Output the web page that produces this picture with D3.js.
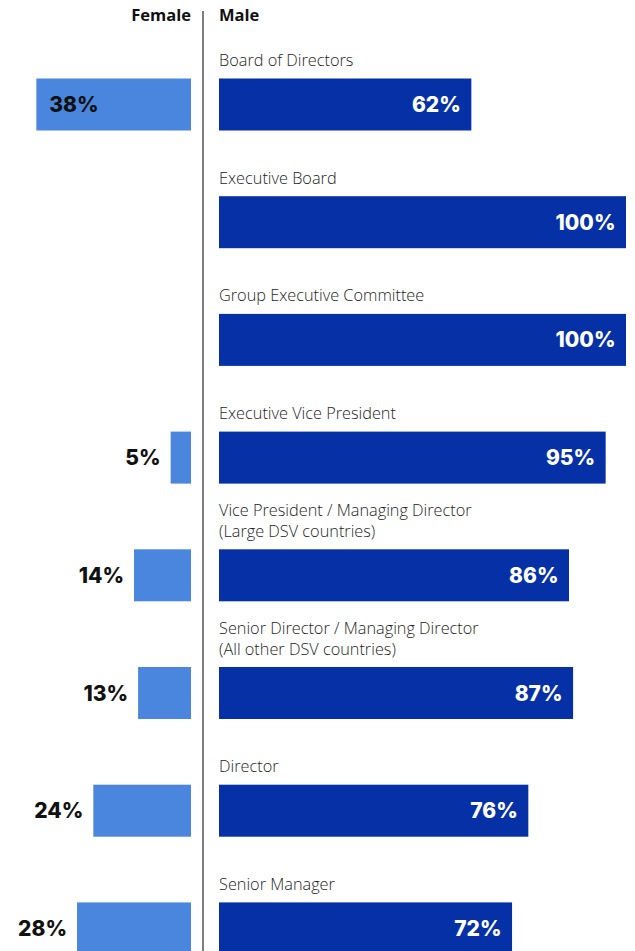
<!DOCTYPE html>
<html>
<head>
<meta charset="utf-8">
<script src="https://cdn.jsdelivr.net/npm/d3@7"></script>
<style>
  html, body { margin: 0; padding: 0; background: #ffffff; }
  svg { display: block; }
</style>
</head>
<body>
<svg id="chart" width="635" height="951"></svg>
<script>
// Management levels, top to bottom ("\n" marks a line break in the label)
const categories = [
  "Board of Directors",
  "Executive Board",
  "Group Executive Committee",
  "Executive Vice President",
  "Vice President / Managing Director\n(Large DSV countries)",
  "Senior Director / Managing Director\n(All other DSV countries)",
  "Director",
  "Senior Manager"
];
const seriesNames = ["Female", "Male"];
const femaleShare = [38, 0, 0, 5, 14, 13, 24, 28];
const maleShare = [62, 100, 100, 95, 86, 87, 76, 72];

const W = 635, H = 951;
const femaleColor = "#4a86de";
const maleColor = "#0631a6";
const labelFont = "'Open Sans', 'Noto Sans', sans-serif";
const valueFont = "Inter, Lato, 'Noto Sans', sans-serif";

const svg = d3.select("#chart");

// Each side grows outward from the centre divider
const divider = 203;
const xMale = d3.scaleLinear().domain([0, 100]).range([219, 626]);
const xFemale = d3.scaleLinear().domain([0, 100]).range([191, 191 - 407]);

// Rows: one bar per level, evenly spaced
const barH = 52, step = 117.7, top0 = 78.5;
const y = d3.scaleBand()
  .domain(categories)
  .range([top0, top0 + (categories.length - 1) * step + barH])
  .paddingInner(1 - barH / step)
  .paddingOuter(0);

// Centre divider
svg.append("line")
  .attr("x1", divider).attr("x2", divider)
  .attr("y1", 11).attr("y2", H)
  .attr("stroke", "#555").attr("stroke-width", 1.5);

// Series headers
svg.append("text")
  .attr("x", xFemale(0)).attr("y", 21)
  .attr("text-anchor", "end")
  .attr("font-family", labelFont).attr("font-weight", 700).attr("font-size", 16.5)
  .attr("fill", "#111")
  .text(seriesNames[0]);
svg.append("text")
  .attr("x", xMale(0)).attr("y", 21)
  .attr("font-family", labelFont).attr("font-weight", 700).attr("font-size", 16.5)
  .attr("fill", "#111")
  .text(seriesNames[1]);

const rows = svg.append("g").selectAll("g")
  .data(categories.map((c, i) => ({ c, f: femaleShare[i], m: maleShare[i] })))
  .join("g");

// Level labels above the male bars
rows.append("text")
  .attr("font-family", labelFont).attr("font-weight", 300).attr("font-size", 16.3)
  .attr("fill", "#1e1e1e")
  .each(function (d) {
    const lines = d.c.split("\n");
    const t = d3.select(this);
    lines.forEach((ln, k) => {
      t.append("tspan")
        .attr("x", xMale(0))
        .attr("y", y(d.c) - 12.5 - (lines.length - 1 - k) * 21)
        .text(ln);
    });
  });

// Male bars
rows.append("rect")
  .attr("x", xMale(0))
  .attr("y", d => y(d.c))
  .attr("width", d => xMale(d.m) - xMale(0))
  .attr("height", y.bandwidth())
  .attr("fill", maleColor);

rows.append("text")
  .attr("x", d => xMale(d.m) - 10.5)
  .attr("y", d => y(d.c) + y.bandwidth() / 2)
  .attr("dy", "0.36em")
  .attr("text-anchor", "end")
  .attr("font-family", valueFont).attr("font-weight", 800).attr("font-size", 21)
  .attr("fill", "#ffffff")
  .text(d => d.m + "%");

// Female bars (only where the share is non-zero)
const fem = rows.filter(d => d.f > 0);
fem.append("rect")
  .attr("x", d => xFemale(d.f))
  .attr("y", d => y(d.c))
  .attr("width", d => xFemale(0) - xFemale(d.f))
  .attr("height", y.bandwidth())
  .attr("fill", femaleColor);

// Wide bars carry their value inside, narrow ones to the left
fem.append("text")
  .attr("x", d => d.f >= 35 ? xFemale(d.f) + 13 : xFemale(d.f) - 10)
  .attr("y", d => y(d.c) + y.bandwidth() / 2)
  .attr("dy", "0.36em")
  .attr("text-anchor", d => d.f >= 35 ? "start" : "end")
  .attr("font-family", valueFont).attr("font-weight", 800).attr("font-size", 21)
  .attr("fill", "#111")
  .text(d => d.f + "%");
</script>
</body>
</html>
